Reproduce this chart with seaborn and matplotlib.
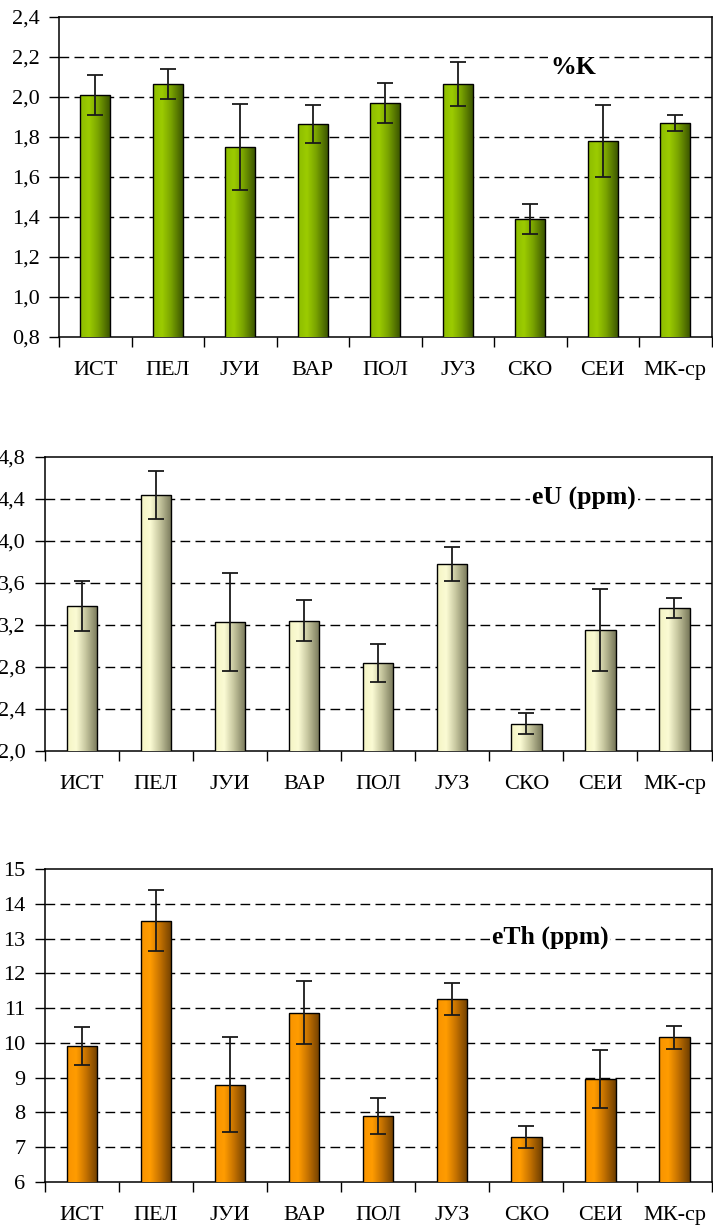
import numpy as np
import pandas as pd
import matplotlib
matplotlib.use("Agg")
import matplotlib.pyplot as plt
from matplotlib.colors import LinearSegmentedColormap
from matplotlib.ticker import FuncFormatter, FixedLocator
import seaborn as sns

sns.set_theme(style="white")
plt.rcParams["font.family"] = ["Liberation Serif", "DejaVu Serif"]

categories = ["ИСТ", "ПЕЛ", "ЈУИ", "ВАР", "ПОЛ", "ЈУЗ", "СКО", "СЕИ", "МК-ср"]

k_mean = [2.01, 2.065, 1.75, 1.865, 1.97, 2.065, 1.39, 1.78, 1.87]
k_err = [0.10, 0.077, 0.215, 0.097, 0.10, 0.11, 0.076, 0.18, 0.042]

u_mean = [3.38, 4.44, 3.23, 3.24, 2.84, 3.78, 2.26, 3.15, 3.36]
u_err = [0.24, 0.23, 0.47, 0.195, 0.18, 0.16, 0.10, 0.39, 0.095]

th_mean = [9.92, 13.51, 8.80, 10.87, 7.89, 11.27, 7.29, 8.96, 10.16]
th_err = [0.55, 0.88, 1.36, 0.90, 0.52, 0.46, 0.32, 0.84, 0.33]

panels = [
    dict(title="%K", mean=k_mean, err=k_err, ylim=(0.8, 2.4), step=0.2, fmt="{:.1f}",
         colors=["#8cbc00", "#9ccc00", "#7aa400", "#3c5600"],
         rect=[59 / 713, 1 - 337 / 1227, 652.5 / 713, 320 / 1227],
         title_xy=(573, 68)),
    dict(title="eU (ppm)", mean=u_mean, err=u_err, ylim=(2.0, 4.8), step=0.4, fmt="{:.1f}",
         colors=["#f4f4c4", "#fbfbd4", "#c8c8a0", "#767658"],
         rect=[45 / 713, 1 - 751 / 1227, 666.5 / 713, 294 / 1227],
         title_xy=(584, 498)),
    dict(title="eTh (ppm)", mean=th_mean, err=th_err, ylim=(6, 15), step=1, fmt="{:.0f}",
         colors=["#f89400", "#ff9c00", "#c87400", "#6e3e00"],
         rect=[45 / 713, 1 - 1182 / 1227, 666.5 / 713, 313 / 1227],
         title_xy=(550, 937)),
]

W, H = 713, 1227
fig = plt.figure(figsize=(W / 100, H / 100), dpi=100)

grad = np.linspace(0, 1, 256).reshape(1, -1)

for p in panels:
    ax = fig.add_axes(p["rect"])
    df = pd.DataFrame({"region": categories, "value": p["mean"]})
    sns.barplot(data=df, x="region", y="value", ax=ax, width=0.41,
                color="white", edgecolor="black", linewidth=1.0,
                saturation=1, errorbar=None, zorder=3)
    lo, hi = p["ylim"]
    ax.set_ylim(lo, hi)
    ax.set_xlim(-0.5, len(categories) - 0.5)

    # horizontal gradient fill inside each bar
    cmap = LinearSegmentedColormap.from_list(
        "bar", list(zip([0, 0.3, 0.6, 1.0], p["colors"])))
    for patch in ax.patches:
        x0 = patch.get_x()
        w = patch.get_width()
        h = patch.get_height()
        im = ax.imshow(grad, cmap=cmap, aspect="auto",
                       extent=[x0, x0 + w, lo, h], zorder=3.5,
                       interpolation="bilinear")
        im.set_clip_path(patch)
        patch.set_facecolor("none")
        patch.set_zorder(4)

    xs = np.arange(len(categories))
    ax.errorbar(xs, p["mean"], yerr=p["err"], fmt="none", ecolor="#1a1a1a",
                elinewidth=1.3, capsize=5.5, capthick=1.3, zorder=5)

    yt = np.arange(lo, hi + p["step"] / 2, p["step"])
    ax.set_yticks(yt)
    ax.yaxis.set_major_formatter(FuncFormatter(
        lambda v, pos, f=p["fmt"]: f.format(v).replace(".", ",")))
    for y in yt[1:-1]:
        ax.axhline(y, color="black", lw=1.0, ls=(0, (7, 3.8)), zorder=1)

    ax.set_xticks(xs)
    ax.set_xticklabels(categories)
    ax.xaxis.set_minor_locator(FixedLocator(np.arange(-0.5, len(categories), 1.0)))
    ax.tick_params(axis="x", which="major", length=0, pad=17, labelsize=16,
                   colors="black")
    ax.tick_params(axis="x", which="minor", length=7, width=1, direction="out",
                   bottom=True, color="black")
    ax.tick_params(axis="y", which="major", length=7, width=1, direction="out",
                   left=True, pad=7, labelsize=16, colors="black")
    ax.set_xlabel("")
    ax.set_ylabel("")
    for s in ax.spines.values():
        s.set_visible(True)
        s.set_color("black")
        s.set_linewidth(1.1)

    tx, ty = p["title_xy"]
    fig.text(tx / W, 1 - ty / H, p["title"], ha="center", va="center",
             fontsize=18.5, fontweight="bold", color="black",
             bbox=dict(facecolor="white", edgecolor="none", pad=1.5), zorder=10)

fig.savefig("out.png", dpi=100, facecolor="white")
